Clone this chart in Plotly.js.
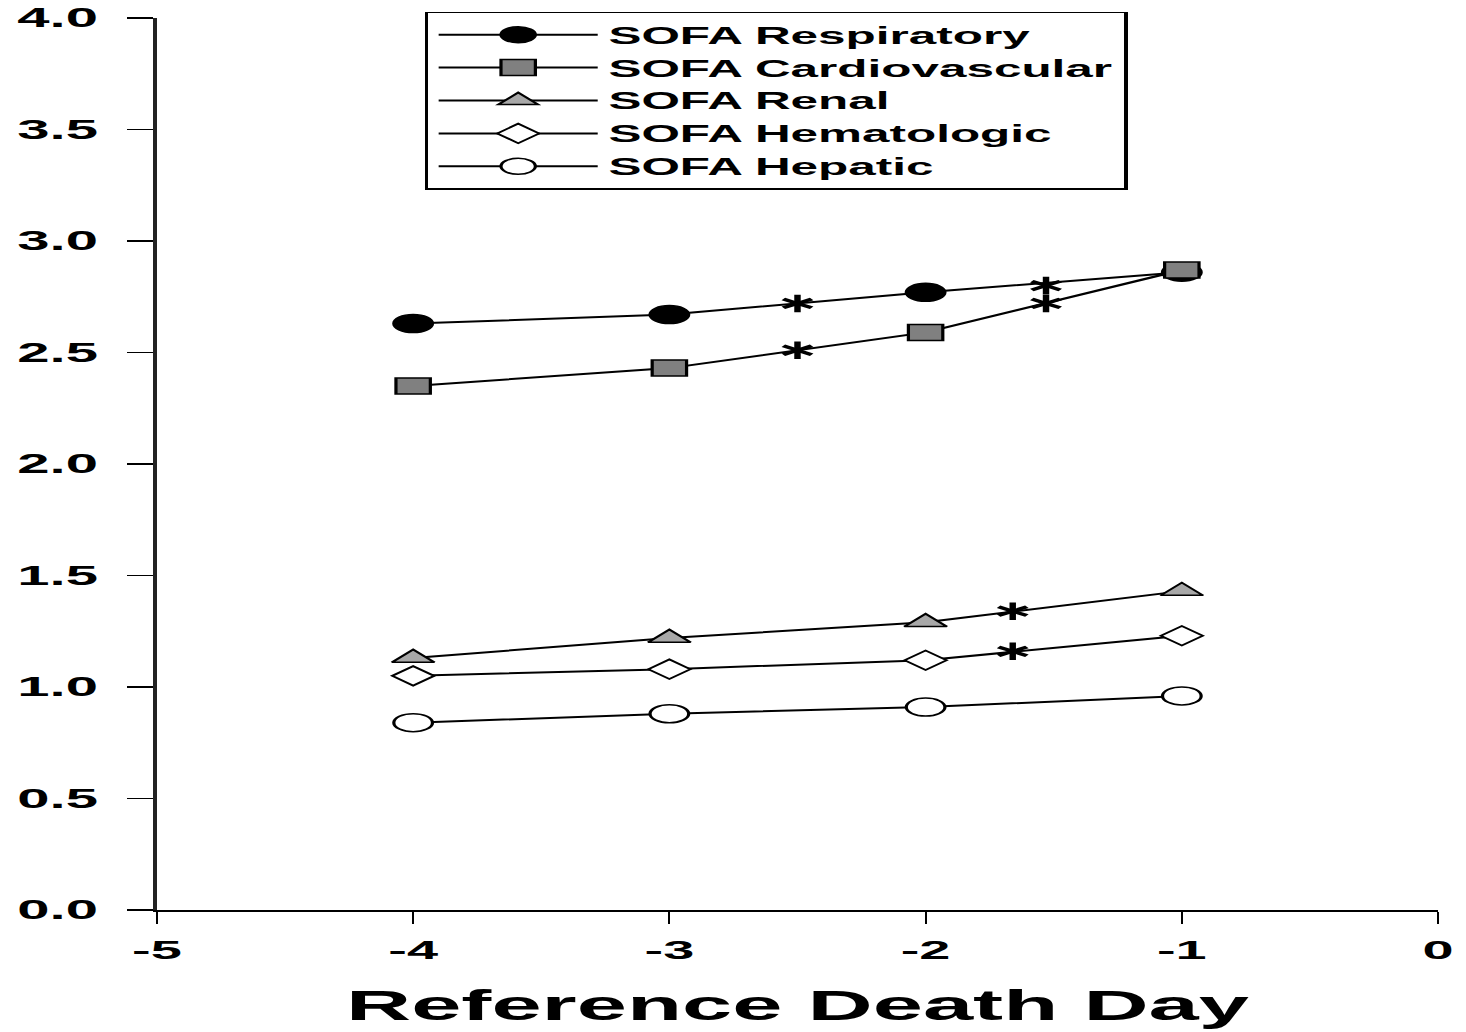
<!DOCTYPE html>
<html>
<head>
<meta charset="utf-8">
<script src="https://cdn.plot.ly/plotly-3.0.1.min.js"></script>
<style>
  html, body { margin: 0; padding: 0; background: #fff; overflow: hidden; }
  #chart { width: 682px; height: 1032px; transform: scaleX(2.14956); transform-origin: 0 0; }
</style>
</head>
<body>
<div id="chart"></div>
<script>
// ---- data ----
const days = [-4, -3, -2, -1];
const respiratory    = [2.63, 2.67, 2.77, 2.86];
const cardiovascular = [2.35, 2.43, 2.59, 2.87];
const renal          = [1.13, 1.22, 1.29, 1.43];
const hematologic    = [1.05, 1.08, 1.12, 1.23];
const hepatic        = [0.84, 0.88, 0.91, 0.96];

// significance asterisks (x, y)
const starX = [-2.5, -1.53, -2.5, -1.53, -1.66, -1.66];
const starY = [2.72, 2.80, 2.51, 2.72, 1.34, 1.16];

const seriesNames = ['SOFA Respiratory', 'SOFA Cardiovascular', 'SOFA Renal', 'SOFA Hematologic', 'SOFA Hepatic'];
const xTickVals = [-5, -4, -3, -2, -1, 0];
const yTickVals = [0, 0.5, 1, 1.5, 2, 2.5, 3, 3.5, 4];
const yTickText = ['0.0', '0.5', '1.0', '1.5', '2.0', '2.5', '3.0', '3.5', '4.0'];
const xTitle = 'Reference Death Day';

const FONT = 'Liberation Sans, Arial, sans-serif';
const lineStyle = { color: '#000', width: 2 };

function tr(name, y, symbol, fill, size) {
  return {
    type: 'scatter', mode: 'lines+markers', name: name, x: days, y: y,
    line: lineStyle,
    marker: { symbol: symbol, size: size, color: fill, line: { color: '#000', width: 1.5 } }
  };
}

function starTrace(symbol) {
  return {
    type: 'scatter', mode: 'markers', x: starX, y: starY, showlegend: false, hoverinfo: 'skip',
    marker: { symbol: symbol, size: 11, color: '#000', line: { color: '#000', width: 3 } }
  };
}

const data = [
  tr(seriesNames[0], respiratory, 'circle', '#000', 18),
  tr(seriesNames[1], cardiovascular, 'square', '#808080', 16),
  tr(seriesNames[2], renal, 'triangle-up', '#a8a8a8', 17),
  tr(seriesNames[3], hematologic, 'diamond', '#fff', 15),
  tr(seriesNames[4], hepatic, 'circle', '#fff', 18),
  starTrace('y-up-open'),
  starTrace('y-down-open')
];

const layout = {
  width: 682, height: 1032,
  margin: { l: 73, r: 13, t: 18, b: 122 },
  paper_bgcolor: '#fff', plot_bgcolor: '#fff',
  showlegend: true,
  font: { family: FONT, color: '#000' },
  xaxis: {
    range: [-5, 0], tickvals: xTickVals, ticktext: xTickVals.map(String),
    showgrid: false, zeroline: false, showline: true, linecolor: '#000', linewidth: 2,
    ticks: 'outside', ticklen: 12, tickwidth: 1, tickcolor: '#000',
    tickfont: { family: FONT, size: 26, weight: 'bold' }, ticklabelstandoff: 4,
    title: { text: xTitle, font: { family: FONT, size: 42, weight: 'bold' }, standoff: 26 },
    automargin: false, fixedrange: true
  },
  yaxis: {
    range: [0, 4], tickvals: yTickVals, ticktext: yTickText,
    showgrid: false, zeroline: false, showline: true, linecolor: '#222', linewidth: 2,
    ticks: 'outside', ticklen: 12, tickwidth: 1.5, tickcolor: '#000',
    tickfont: { family: FONT, size: 27, weight: 'bold' }, ticklabelstandoff: 8,
    automargin: false, fixedrange: true
  },
  legend: {
    x: 0.209, y: 1.007, xanchor: 'left', yanchor: 'top',
    bgcolor: '#fff', bordercolor: '#000', borderwidth: 1.5,
    font: { family: FONT, size: 23, weight: 'bold', color: '#000' },
    itemwidth: 74, tracegroupgap: 0, entrywidth: 340, entrywidthmode: 'pixels'
  }
};

Plotly.newPlot('chart', data, layout, { displayModeBar: false, staticPlot: true });
</script>
</body>
</html>
